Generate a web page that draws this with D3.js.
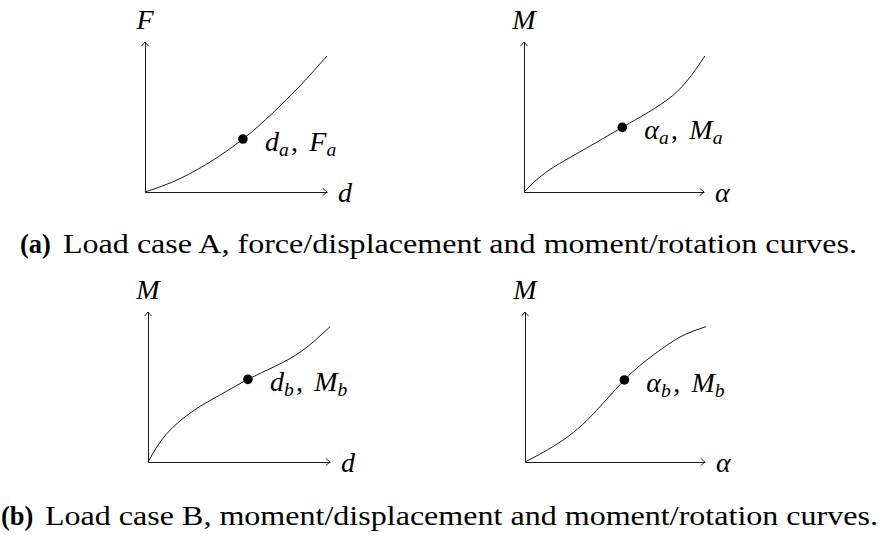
<!DOCTYPE html>
<html>
<head>
<meta charset="utf-8">
<script src="https://cdn.jsdelivr.net/npm/d3@7/dist/d3.min.js"></script>
<style>
  html, body { margin: 0; padding: 0; background: #fff; }
  svg { display: block; }
</style>
</head>
<body>
<svg id="fig" width="882" height="535"></svg>
<script>
// Sketched response curves, normalised to 0..100 on each axis.
const forceDispA  = [[0,0],[15.5,6.9],[33.9,18.6],[53.8,35.3],[70.3,52.8],[85.2,70.8],[100,90.7]];
const momentRotA  = [[0,0],[12,13],[30,26],[54.6,43.1],[66.3,51.2],[79.3,61.2],[90.4,73.8],[100.5,90.7]];
const momentDispB = [[0,0],[10,18.5],[25,34.2],[40,45],[54.9,55.1],[70,63.9],[85,74.4],[100,90.2]];
const momentRotB  = [[0,0],[15.7,10.4],[34.3,27.6],[55.2,54.7],[71.3,71.3],[86.1,83.3],[100.5,90.2]];

// Marked operating points on each curve.
const pointA1 = [53.8, 35.3];
const pointA2 = [54.6, 43.1];
const pointB1 = [54.9, 55.1];
const pointB2 = [55.2, 54.7];

// Axis and point labels: [main, subscript] pieces.
const yLabels = ["F", "M", "M", "M"];
const xLabels = ["d", "α", "d", "α"];
const pointLabels = [
  [["d","a"],["F","a"]],
  [["α","a"],["M","a"]],
  [["d","b"],["M","b"]],
  [["α","b"],["M","b"]]
];

const captionA = ["(a)", "Load case A, force/displacement and moment/rotation curves."];
const captionB = ["(b)", "Load case B, moment/displacement and moment/rotation curves."];

const serif = "'Liberation Serif', 'DejaVu Serif', serif";
const svg = d3.select("#fig");

const panels = [
  { ox: 145, oy: 192, w: 182, h: 150, data: forceDispA,  pt: pointA1 },
  { ox: 524, oy: 192, w: 180, h: 150, data: momentRotA,  pt: pointA2 },
  { ox: 148, oy: 462, w: 182, h: 150, data: momentDispB, pt: pointB1 },
  { ox: 525, oy: 462, w: 180, h: 150, data: momentRotB,  pt: pointB2 }
];

const stroke = "#000";
const lw = 0.9;
const mathSize = 28;

// Open "to"-style arrow tip, drawn pointing in +x at the origin.
const tipPath = "M-4.2,-3.6 Q-1.2,-0.9 0,0 Q-1.2,0.9 -4.2,3.6";

function mathText(g, parts, x, y, size) {
  const t = g.append("text")
    .attr("font-family", serif).attr("font-style", "italic")
    .attr("x", x).attr("y", y)
    .attr("font-size", size);
  parts.forEach((p, i) => {
    if (i > 0) {
      t.append("tspan").attr("font-style", "normal").text(",\u2009\u2009");
    }
    t.append("tspan").text(p[0]);
    t.append("tspan").attr("font-size", size * 0.7).attr("dy", 5).text(p[1]);
    t.append("tspan").attr("dy", -5).text("\u200A");
  });
  return t;
}

panels.forEach((p, i) => {
  const x = d3.scaleLinear().domain([0, 100]).range([p.ox, p.ox + p.w]);
  const y = d3.scaleLinear().domain([0, 100]).range([p.oy, p.oy - p.h]);
  const g = svg.append("g");

  // Axes without ticks, just the baseline and spine.
  const xa = g.append("g").attr("transform", `translate(0,${p.oy})`)
    .call(d3.axisBottom(x).tickValues([]).tickSizeOuter(0));
  const ya = g.append("g").attr("transform", `translate(${p.ox},0)`)
    .call(d3.axisLeft(y).tickValues([]).tickSizeOuter(0));
  [xa, ya].forEach(a => a.select(".domain")
    .attr("stroke", stroke).attr("stroke-width", lw).attr("fill", "none"));

  // Arrow tips on both axes.
  g.append("path").attr("d", tipPath)
    .attr("transform", `translate(${x(100)},${p.oy})`)
    .attr("fill", "none").attr("stroke", stroke).attr("stroke-width", lw);
  g.append("path").attr("d", tipPath)
    .attr("transform", `translate(${p.ox},${y(100)}) rotate(-90)`)
    .attr("fill", "none").attr("stroke", stroke).attr("stroke-width", lw);

  // Response curve.
  const line = d3.line()
    .x(d => x(d[0])).y(d => y(d[1]))
    .curve(d3.curveNatural);
  g.append("path").datum(p.data).attr("d", line)
    .attr("fill", "none").attr("stroke", stroke).attr("stroke-width", lw);

  // Marked point.
  g.append("circle")
    .attr("cx", x(p.pt[0])).attr("cy", y(p.pt[1])).attr("r", 4.8)
    .attr("fill", "#000");

  // Axis names.
  g.append("text")
    .attr("font-family", serif).attr("font-style", "italic")
    .attr("x", p.ox).attr("y", y(100) - 13)
    .attr("font-size", mathSize).attr("text-anchor", "middle")
    .text(yLabels[i]);
  g.append("text")
    .attr("font-family", serif).attr("font-style", "italic")
    .attr("x", x(100) + 11).attr("y", p.oy + 10)
    .attr("font-size", mathSize)
    .text(xLabels[i]);

  // Point label.
  mathText(g, pointLabels[i], x(p.pt[0]) + 22, y(p.pt[1]) + 12, mathSize);
});

// Sub-figure captions.
function caption(parts, xLead, xStart, xEnd, yBase) {
  const t = svg.append("g").attr("font-family", serif);
  t.append("text").attr("x", xLead).attr("y", yBase)
    .attr("font-size", 26.5).attr("font-weight", "bold")
    .text(parts[0]);
  t.append("text").attr("x", xStart).attr("y", yBase)
    .attr("font-size", 26.5)
    .attr("textLength", xEnd - xStart).attr("lengthAdjust", "spacingAndGlyphs")
    .text(parts[1]);
}
caption(captionA, 20, 63, 857, 253);
caption(captionB, 1, 45, 878, 525);
</script>
</body>
</html>
